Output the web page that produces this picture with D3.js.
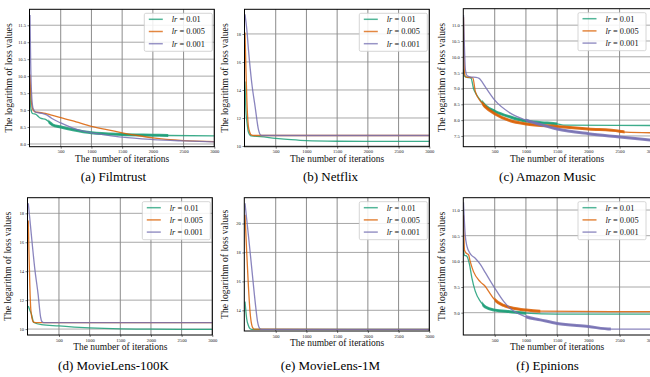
<!DOCTYPE html>
<html><head><meta charset="utf-8">
<script src="https://cdn.jsdelivr.net/npm/d3@7"></script>
<style>body{margin:0;background:#fff}svg{display:block}</style>
</head><body>
<svg id="c" width="650" height="377"></svg>
<script>
// ---------- data ----------
const xTicks = [500, 1000, 1500, 2000, 2500, 3000];
const lrLabels = ["0.01", "0.005", "0.001"];

// (a) Filmtrust  [iteration, log loss]
const filmtrustLr01 = [[0,9.75],[8,9.15],[25,8.95],[40,8.9],[100,8.87],[140,8.8],[170,8.76],[260,8.72],[300,8.66],[370,8.56],[500,8.5],[700,8.42],[1000,8.33],[1500,8.28],[2000,8.26],[2250,8.25],[3000,8.24]];
const filmtrustLr005 = [[0,10.05],[10,9.6],[25,9.2],[50,9.0],[80,8.95],[150,8.93],[250,8.9],[350,8.85],[500,8.78],[750,8.65],[1000,8.52],[1250,8.42],[1500,8.33],[1750,8.25],[2000,8.18],[2500,8.1],[3000,8.07]];
const filmtrustLr0001 = [[0,11.8],[10,10.5],[25,9.5],[50,9.05],[100,8.93],[200,8.9],[280,8.85],[350,8.76],[500,8.62],[700,8.47],[1000,8.33],[1250,8.26],[1500,8.2],[2000,8.13],[2500,8.09],[3000,8.06]];
const filmtrustNoisy = [[300,2250], null, null];
const filmtrustYTicks = [8.0, 8.5, 9.0, 9.5, 10.0, 10.5, 11.0, 11.5];

// (b) Netflix
const netflixLr01 = [[0,14.6],[15,12.5],[30,11.8],[55,11.0],[100,10.72],[250,10.67],[500,10.55],[750,10.45],[1000,10.38],[1500,10.34],[2000,10.33],[3000,10.33]];
const netflixLr005 = [[0,18.1],[15,15.5],[30,13.3],[55,11.4],[80,10.95],[100,10.8],[150,10.75],[3000,10.75]];
const netflixLr0001 = [[0,19.4],[30,18.3],[56,16.9],[110,14.5],[165,12.8],[220,11.15],[250,10.8],[280,10.75],[3000,10.75]];
const netflixNoisy = [null, null, null];
const netflixYTicks = [10, 12, 14, 16, 18];

// (c) Amazon Music
const amazonLr01 = [[0,9.6],[20,9.38],[60,9.35],[120,9.33],[160,9.0],[210,8.8],[270,8.63],[350,8.45],[500,8.28],[750,8.1],[1000,7.97],[1250,7.92],[1500,7.88],[1600,7.84],[3000,7.83]];
const amazonLr005 = [[0,11.25],[15,9.5],[40,9.36],[100,9.35],[150,9.33],[190,8.9],[270,8.6],[350,8.42],[500,8.2],[750,7.98],[1000,7.88],[1500,7.8],[2000,7.72],[2500,7.65],[2600,7.62],[3000,7.6]];
const amazonLr0001 = [[0,11.32],[15,10.3],[30,9.6],[60,9.4],[120,9.36],[200,9.35],[250,9.32],[300,9.2],[350,9.05],[500,8.63],[750,8.22],[1000,8.0],[1250,7.85],[1500,7.72],[2000,7.57],[2500,7.47],[3000,7.37]];
const amazonNoisy = [[300,1500], [300,2580], [1000,3000]];
const amazonYTicks = [7.5, 8.0, 8.5, 9.0, 9.5, 10.0, 10.5, 11.0];

// (d) MovieLens-100K
const ml100kLr01 = [[0,11.6],[25,11.3],[50,11.05],[90,10.45],[215,10.3],[500,10.22],[750,10.14],[1000,10.08],[1500,10.01],[2000,9.99],[3000,9.98]];
const ml100kLr005 = [[0,17.5],[10,15.5],[25,13.0],[40,11.4],[60,10.75],[80,10.5],[120,10.45],[3000,10.45]];
const ml100kLr0001 = [[0,18.7],[25,17.6],[50,16.5],[105,14.2],[160,12.4],[200,10.85],[225,10.5],[250,10.45],[3000,10.45]];
const ml100kNoisy = [null, null, null];
const ml100kYTicks = [10, 12, 14, 16, 18];

// (e) MovieLens-1M
const ml1mLr01 = [[0,14.6],[15,13.9],[28,13.4],[55,12.95],[82,12.72],[110,12.68],[3000,12.68]];
const ml1mLr005 = [[0,20.6],[28,18.0],[55,15.7],[82,13.9],[120,12.85],[150,12.7],[3000,12.68]];
const ml1mLr0001 = [[0,21.4],[55,19.2],[110,16.9],[165,14.6],[205,13.2],[245,12.72],[270,12.68],[3000,12.68]];
const ml1mNoisy = [null, null, null];
const ml1mYTicks = [14, 16, 18, 20];

// (f) Epinions
const epinionsLr01 = [[0,10.22],[16,10.12],[54,10.1],[96,9.94],[134,9.68],[188,9.42],[270,9.22],[350,9.11],[500,9.05],[750,9.02],[1000,8.99],[1500,8.97],[3000,8.97]];
const epinionsLr005 = [[0,10.9],[16,10.22],[43,10.16],[80,10.13],[107,10.0],[160,9.8],[270,9.6],[350,9.51],[400,9.42],[500,9.25],[643,9.14],[750,9.1],[1000,9.05],[1230,9.03],[3000,9.02]];
const epinionsLr0001 = [[0,11.15],[27,10.52],[54,10.3],[107,10.15],[188,10.06],[270,9.94],[350,9.78],[500,9.48],[643,9.22],[750,9.08],[1000,8.92],[1230,8.86],[1500,8.79],[2000,8.73],[2360,8.68],[3000,8.68]];
const epinionsNoisy = [[300,1000], [500,1230], [1000,2360]];
const epinionsYTicks = [9.0, 9.5, 10.0, 10.5, 11.0];

// ---------- layout ----------
const colors = ["#1b9e77", "#d95f02", "#7570b3"];
const serif = "'Liberation Serif','DejaVu Serif','Times New Roman',serif";

const panels = [
  {caption:"(a) Filmtrust", series:[filmtrustLr01, filmtrustLr005, filmtrustLr0001], noisy:filmtrustNoisy, yTicks:filmtrustYTicks, yDomain:[7.92,11.97], fmt:".1f",
   l:29.5, x0:30, x1:214.3, t:9.3, b:146.7, yl:12, legR:2, cx:113.5, row:0},
  {caption:"(b) Netflix", series:[netflixLr01, netflixLr005, netflixLr0001], noisy:netflixNoisy, yTicks:netflixYTicks, yDomain:[9.95,19.76], fmt:"d",
   l:244.5, x0:245, x1:429.3, t:9.3, b:146.7, yl:228, legR:2, cx:330.5, row:0},
  {caption:"(c) Amazon Music", series:[amazonLr01, amazonLr005, amazonLr0001], noisy:amazonNoisy, yTicks:amazonYTicks, yDomain:[7.16,11.52], fmt:".1f",
   l:463.3, x0:463.5, x1:650.8, t:8.7, b:146.7, yl:445, legR:4, cx:547.5, row:0},
  {caption:"(d) MovieLens-100K", series:[ml100kLr01, ml100kLr005, ml100kLr0001], noisy:ml100kNoisy, yTicks:ml100kYTicks, yDomain:[9.59,19.08], fmt:"d",
   l:27.5, x0:28.3, x1:212.3, t:197.7, b:335, yl:11, legR:2, cx:113.5, row:1},
  {caption:"(e) MovieLens-1M", series:[ml1mLr01, ml1mLr005, ml1mLr0001], noisy:ml1mNoisy, yTicks:ml1mYTicks, yDomain:[12.57,21.78], fmt:"d",
   l:244.3, x0:245, x1:429.3, t:197.7, b:331, yl:228, legR:2, cx:330.5, row:1},
  {caption:"(f) Epinions", series:[epinionsLr01, epinionsLr005, epinionsLr0001], noisy:epinionsNoisy, yTicks:epinionsYTicks, yDomain:[8.565,11.24], fmt:".1f",
   l:463.3, x0:463.5, x1:650.8, t:197.7, b:335, yl:445, legR:4, cx:547.5, row:1}
];

const svg = d3.select("#c");
const defs = svg.append("defs");

panels.forEach((p, pi) => {
  const g = svg.append("g");
  const x = d3.scaleLinear().domain([0, 3000]).range([p.x0, p.x1]);
  const y = d3.scaleLinear().domain(p.yDomain).range([p.b, p.t]);
  const r = p.x1;

  // grid
  g.append("g").selectAll("line").data(p.yTicks).join("line")
    .attr("x1", p.l).attr("x2", r).attr("y1", d => y(d)).attr("y2", d => y(d))
    .attr("stroke", "#a8a8a8").attr("stroke-width", 1);
  g.append("g").selectAll("line").data(xTicks).join("line")
    .attr("x1", d => x(d)).attr("x2", d => x(d)).attr("y1", p.t).attr("y2", p.b)
    .attr("stroke", "#8c8c8c").attr("stroke-width", 1);

  // axes
  const ya = g.append("g").attr("transform", `translate(${p.l},0)`)
    .call(d3.axisLeft(y).tickValues(p.yTicks).tickSize(2).tickPadding(1.5).tickFormat(d3.format(p.fmt)));
  const xa = g.append("g").attr("transform", `translate(0,${p.b})`)
    .call(d3.axisBottom(x).tickValues(xTicks).tickSize(2).tickPadding(1.5).tickFormat(d3.format("d")));
  [ya, xa].forEach(a => {
    a.select(".domain").remove();
    a.selectAll("text").attr("font-size", 4.6).attr("font-family", serif).attr("fill", "#222");
    a.selectAll("line").attr("stroke", "#222").attr("stroke-width", 0.6);
  });

  // clip
  const cid = "clip" + pi;
  defs.append("clipPath").attr("id", cid).append("rect")
    .attr("x", p.l).attr("y", p.t).attr("width", r - p.l).attr("height", p.b - p.t);

  const line = d3.line().x(d => x(d[0])).y(d => y(d[1])).curve(d3.curveMonotoneX);
  const lg = g.append("g").attr("clip-path", `url(#${cid})`);
  p.series.forEach((s, i) => {
    lg.append("path").attr("d", line(s)).attr("fill", "none")
      .attr("stroke", colors[i]).attr("stroke-width", 1.3).attr("stroke-opacity", 0.85)
      .attr("stroke-linejoin", "round");
    const nz = p.noisy[i];
    if (nz) {
      const bid = `band${pi}_${i}`;
      defs.append("clipPath").attr("id", bid).append("rect")
        .attr("x", x(nz[0])).attr("y", p.t).attr("width", x(nz[1]) - x(nz[0])).attr("height", p.b - p.t);
      lg.append("g").attr("clip-path", `url(#${bid})`).append("path").attr("d", line(s)).attr("fill", "none")
        .attr("stroke", colors[i]).attr("stroke-width", 3).attr("stroke-opacity", 0.85);
    }
  });

  // frame
  g.append("rect").attr("x", p.l).attr("y", p.t).attr("width", r - p.l).attr("height", p.b - p.t)
    .attr("fill", "none").attr("stroke", "#000").attr("stroke-width", 1);

  // legend
  const lw = 68, lh = 38;
  const lx = Math.min(r, 650) - p.legR - lw, ly = p.t + 4;
  const leg = g.append("g").attr("transform", `translate(${lx},${ly})`);
  leg.append("rect").attr("width", lw).attr("height", lh).attr("rx", 1.5)
    .attr("fill", "#fff").attr("fill-opacity", 0.85).attr("stroke", "#ccc").attr("stroke-width", 0.8);
  lrLabels.forEach((lab, i) => {
    const yy = 6 + i * 12.2;
    leg.append("line").attr("x1", 4.5).attr("x2", 18.5).attr("y1", yy).attr("y2", yy)
      .attr("stroke", colors[i]).attr("stroke-width", 1.5).attr("stroke-opacity", 0.75);
    const t = leg.append("text").attr("x", 27.5).attr("y", yy + 2.9)
      .attr("font-family", serif).attr("font-size", 8.3).attr("fill", "#111");
    t.append("tspan").attr("font-style", "italic").text("lr");
    t.append("tspan").text(" = " + lab);
  });

  // axis labels
  const pc = (p.t + p.b) / 2;
  g.append("text").attr("transform", `translate(${p.yl},${pc}) rotate(-90)`)
    .attr("text-anchor", "middle").attr("font-family", serif).attr("font-size", 9.6).attr("fill", "#111")
    .text("The logarithm of loss values");
  g.append("text").attr("x", (p.x0 + Math.min(p.x1, 650) + (p.x1 > 650 ? p.x1 - 650 : 0)) / 2).attr("y", p.b + 14.8)
    .attr("text-anchor", "middle").attr("font-family", serif).attr("font-size", 9.5).attr("fill", "#111")
    .text("The number of iterations");

  // caption
  g.append("text").attr("x", p.cx).attr("y", p.row === 0 ? 181 : 370)
    .attr("text-anchor", "middle").attr("font-family", serif).attr("font-size", 13).attr("fill", "#000")
    .text(p.caption);
});
</script>
</body></html>
